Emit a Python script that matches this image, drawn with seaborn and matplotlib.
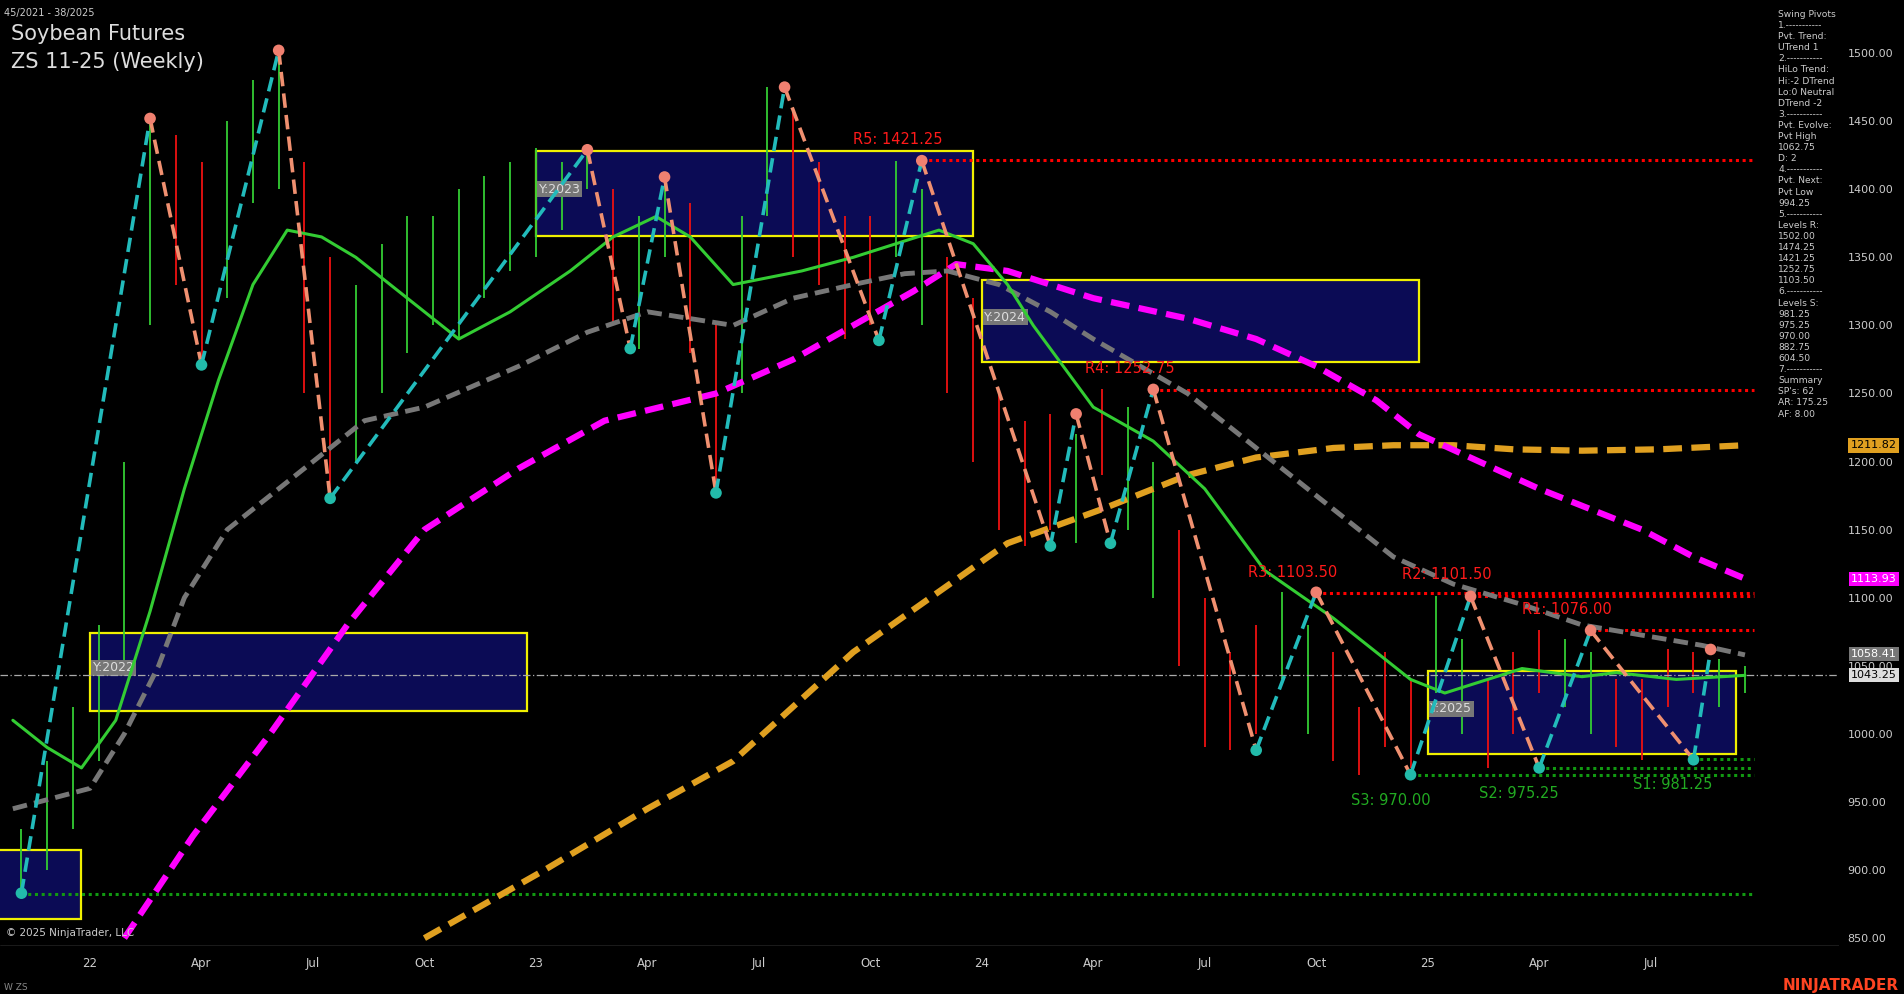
import numpy as np
import pandas as pd
import seaborn as sns
import matplotlib
matplotlib.use("Agg")
import matplotlib.pyplot as plt
from matplotlib.patches import Rectangle

sns.set_style("dark")
plt.rcParams['font.family'] = ['DejaVu Sans']

# ---- data (x = weeks since 2022-01-03) ----
pivot_w = [-8, 7, 13, 22, 28, 58, 63, 67, 73, 81, 92, 97, 112, 115, 119, 124, 136, 143, 154, 161, 169, 175, 187, 189]
pivot_p = [883, 1452, 1271, 1502, 1173, 1429, 1283, 1409, 1177, 1475, 1289, 1421, 1138, 1235, 1140, 1253, 988, 1104, 970, 1101, 975, 1076, 981, 1062]

bar_w = [-8, -5, -2, 1, 4, 7, 10, 13, 16, 19, 22, 25, 28, 31, 34, 37, 40, 43, 46, 49, 52, 55, 58, 61, 64, 67, 70, 73,
         76, 79, 82, 85, 88, 91, 94, 97, 100, 103, 106, 109, 112, 115, 118, 121, 124, 127, 130, 133, 136, 139, 142,
         145, 148, 151, 154, 157, 160, 163, 166, 169, 172, 175, 178, 181, 184, 187, 190, 193]
bar_lo = [880, 900, 930, 980, 1050, 1300, 1330, 1270, 1320, 1390, 1400, 1250, 1175, 1200, 1250, 1280, 1300, 1290, 1320, 1340, 1350, 1370, 1400, 1300, 1283, 1350, 1280, 1177,
          1250, 1380, 1350, 1330, 1290, 1300, 1350, 1300, 1250, 1200, 1150, 1138, 1150, 1140, 1190, 1150, 1100, 1050, 990, 988, 1000, 1040, 1000,
          980, 970, 990, 975, 1030, 1000, 975, 1000, 1030, 1020, 1000, 990, 981, 1020, 1030, 1020, 1030]
bar_hi = [930, 980, 1020, 1080, 1200, 1450, 1440, 1420, 1450, 1480, 1500, 1420, 1350, 1330, 1360, 1380, 1380, 1400, 1410, 1420, 1430, 1420, 1429, 1400, 1380, 1409, 1390, 1300,
          1380, 1475, 1460, 1420, 1380, 1380, 1421, 1400, 1350, 1320, 1250, 1230, 1235, 1220, 1253, 1240, 1200, 1150, 1100, 1060, 1080, 1104, 1080,
          1060, 1020, 1060, 1040, 1101, 1070, 1040, 1060, 1076, 1070, 1060, 1040, 1040, 1062, 1060, 1055, 1050]

ma_green_w = [-9, -5, -1, 3, 7, 11, 15, 19, 23, 27, 31, 37, 43, 49, 56, 61, 66, 70, 75, 83, 89, 95, 99, 103, 107, 110, 117, 124, 130, 137, 145, 150, 154, 158, 163, 167, 174, 178, 185, 193]
ma_green_p = [1010, 990, 975, 1010, 1090, 1180, 1260, 1330, 1370, 1365, 1350, 1320, 1290, 1310, 1340, 1365, 1380, 1365, 1330, 1340, 1350, 1362, 1370, 1360, 1330, 1300, 1240, 1215, 1180, 1120, 1085, 1060, 1040, 1030, 1040, 1048, 1042, 1045, 1040, 1043]
ma_gray_w = [-9, 0, 4, 8, 11, 16, 22, 27, 32, 39, 50, 58, 65, 75, 82, 89, 95, 100, 106, 112, 117, 128, 138, 145, 152, 159, 167, 174, 188, 193]
ma_gray_p = [945, 960, 1000, 1050, 1100, 1150, 1180, 1205, 1230, 1240, 1270, 1295, 1310, 1300, 1320, 1330, 1338, 1340, 1330, 1310, 1290, 1250, 1200, 1165, 1130, 1110, 1095, 1080, 1065, 1058]
ma_mag_w = [4, 12, 21, 30, 39, 50, 60, 73, 82, 89, 96, 101, 107, 117, 128, 136, 143, 150, 155, 162, 169, 175, 181, 187, 193]
ma_mag_p = [850, 925, 1000, 1080, 1150, 1195, 1230, 1250, 1275, 1300, 1325, 1345, 1340, 1320, 1305, 1290, 1270, 1245, 1220, 1200, 1180, 1165, 1150, 1130, 1114]
ma_or_w = [39, 53, 65, 75, 82, 89, 98, 107, 118, 128, 136, 145, 152, 159, 166, 174, 183, 193]
ma_or_p = [850, 900, 945, 980, 1020, 1060, 1100, 1140, 1165, 1190, 1203, 1210, 1212, 1212, 1209, 1208, 1209, 1212]

year_boxes = [("Y:2022", 0, 51, 1017, 1074), ("Y:2023", 52, 103, 1366, 1428),
              ("Y:2024", 104, 155, 1273, 1333), ("Y:2025", 156, 192, 985, 1046), ("", -11, -1, 864, 915)]

res_names = ["R5: 1421.25", "R4: 1252.75", "R3: 1103.50", "R2: 1101.50", "R1: 1076.00"]
res_vals = [1421.25, 1252.75, 1103.50, 1101.50, 1076.00]
res_start = [97, 124, 143, 161, 175]
sup_names = ["S3: 970.00", "S2: 975.25", "S1: 981.25"]
sup_vals = [970.00, 975.25, 981.25]
sup_start = [154, 169, 187]

tick_w = [0, 13, 26, 39, 52, 65, 78, 91, 104, 117, 130, 143, 156, 169, 182]
tick_lab = ["22", "Apr", "Jul", "Oct", "23", "Apr", "Jul", "Oct", "24", "Apr", "Jul", "Oct", "25", "Apr", "Jul"]
y_ticks = [850, 900, 950, 1000, 1050, 1100, 1150, 1200, 1250, 1300, 1350, 1400, 1450, 1500]

panel_text = ("Swing Pivots\n1.-----------\nPvt. Trend:\nUTrend 1\n2.-----------\nHiLo Trend:\nHi:-2 DTrend\nLo:0 Neutral\n"
              "DTrend -2\n3.-----------\nPvt. Evolve:\nPvt High\n1062.75\nD: 2\n4.-----------\nPvt. Next:\nPvt Low\n994.25\n"
              "5.-----------\nLevels R:\n1502.00\n1474.25\n1421.25\n1252.75\n1103.50\n6.-----------\nLevels S:\n981.25\n975.25\n"
              "970.00\n882.75\n604.50\n7.-----------\nSummary\nSP's: 62\nAR: 175.25\nAF: 8.00")

# ---- figure ----
fig = plt.figure(figsize=(19.04, 9.94), dpi=100, facecolor="black")
ax = fig.add_axes([0.0, 0.048, 0.966, 0.952])
ax.set_facecolor("black")
ax.set_xlim(-10.5, 204)
ax.set_ylim(844, 1539)

# price bars
for i, w in enumerate(bar_w):
    k = np.searchsorted(pivot_w, w)
    k = min(max(k, 1), len(pivot_w) - 1)
    up = pivot_p[k] > pivot_p[k - 1]
    ax.vlines(w, bar_lo[i], bar_hi[i], color="#33cc33" if up else "#ee1111", lw=1.3)

# boxes
for name, x0, x1, y0, y1 in year_boxes:
    ax.add_patch(Rectangle((x0, y0), x1 - x0, y1 - y0, facecolor="#0b0b55", edgecolor="#f0f000", lw=1.6, zorder=1))
    if name:
        ax.text(x0 + 0.3, (y0 + y1) / 2 + 3, name, color="#dddddd", fontsize=9, va="center",
                bbox=dict(facecolor="#777777", edgecolor="none", pad=1), zorder=2)

# level lines
ax.axhline(1043.25, color="#aaaaaa", lw=0.9, ls=(0, (6, 2, 1, 2)), zorder=2)
for n, v, s in zip(res_names, res_vals, res_start):
    ax.hlines(v, s, 194, color="#ff0000", lw=2.2, ls=(0, (1, 1.2)), zorder=3)
    ax.text(s - 8, v + 12, n, color="#ff1a1a", fontsize=10.5, zorder=6)
for n, v, s in zip(sup_names, sup_vals, sup_start):
    ax.hlines(v, s, 194, color="#119911", lw=2.2, ls=(0, (1, 1.2)), zorder=3)
    ax.text(s - 7, v - 22, n, color="#22aa22", fontsize=10.5, zorder=6)
ax.hlines(882.75, -8, 194, color="#119911", lw=2.2, ls=(0, (1, 1.2)), zorder=3)

# moving averages
sns.lineplot(x=ma_or_w, y=ma_or_p, ax=ax, color="#e0a020", lw=4.5, ls=(0, (3, 1.5)), zorder=4)
sns.lineplot(x=ma_mag_w, y=ma_mag_p, ax=ax, color="#ff00ff", lw=4.5, ls=(0, (3, 1.5)), zorder=4)
sns.lineplot(x=ma_gray_w, y=ma_gray_p, ax=ax, color="#777777", lw=3.5, ls=(0, (3, 1.5)), zorder=4)
sns.lineplot(x=ma_green_w, y=ma_green_p, ax=ax, color="#33cc33", lw=2.2, zorder=4)

# swing pivots
for i in range(1, len(pivot_w)):
    up = pivot_p[i] > pivot_p[i - 1]
    ax.plot(pivot_w[i - 1:i + 1], pivot_p[i - 1:i + 1], color="#22bbbb" if up else "#f09070",
            lw=2.6, ls=(0, (4, 2)), zorder=5)
for i, (w, p) in enumerate(zip(pivot_w, pivot_p)):
    is_hi = (i > 0 and p > pivot_p[i - 1])
    ax.scatter(w, p, s=70, color="#f08070" if is_hi else "#22bbaa", zorder=6, edgecolor="none")

# axes styling
ax.yaxis.tick_right()
ax.set_yticks(y_ticks)
ax.set_yticklabels([f"{v:.2f}" for v in y_ticks], color="#cccccc", fontsize=8)
ax.tick_params(axis="y", pad=6, length=0)
ax.set_xticks(tick_w)
ax.set_xticklabels(tick_lab, color="#cccccc", fontsize=8.5)
ax.tick_params(axis="x", length=0, pad=8)
ax.grid(False)
for s in ax.spines.values():
    s.set_visible(False)
ax.axhline(844, color="#888888", lw=1)
ax.set_xlabel(""); ax.set_ylabel("")

# right price tags
for v, c, tc in [(1211.82, "#e0a020", "black"), (1113.93, "#ff00ff", "white"), (1058.41, "#777777", "white"), (1043.25, "#dddddd", "black")]:
    ax.text(208, v, f"{v:.2f}", color=tc, fontsize=8, va="center", ha="center",
            bbox=dict(facecolor=c, edgecolor="none", pad=1.5), zorder=7, clip_on=False)

# texts
fig.text(0.002, 0.992, "45/2021 - 38/2025", color="#cccccc", fontsize=7, va="top")
fig.text(0.006, 0.976, "Soybean Futures", color="#dddddd", fontsize=15, va="top")
fig.text(0.006, 0.948, "ZS 11-25 (Weekly)", color="#dddddd", fontsize=15, va="top")
fig.text(0.003, 0.058, "© 2025 NinjaTrader, LLC", color="#cccccc", fontsize=7.5)
fig.text(0.002, 0.004, "W ZS", color="#888888", fontsize=6.5)
fig.text(0.997, 0.004, "NINJATRADER", color="#ff4422", fontsize=11, fontweight="bold", ha="right")
fig.text(0.934, 0.99, panel_text, color="#cccccc", fontsize=6.6, va="top", linespacing=1.3)

fig.savefig("out.png", dpi=100, facecolor="black")
